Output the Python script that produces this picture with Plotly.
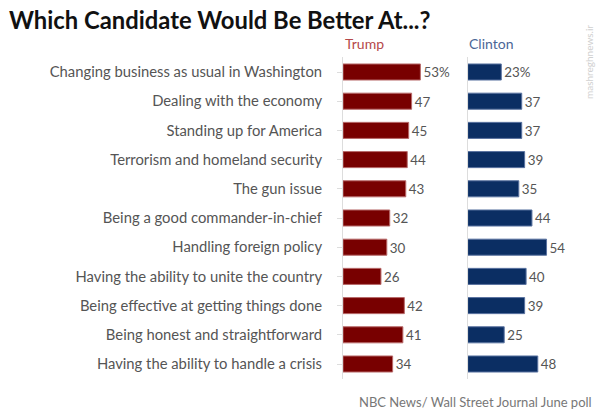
import plotly.graph_objects as go

categories = [
    "Changing business as usual in Washington",
    "Dealing with the economy",
    "Standing up for America",
    "Terrorism and homeland security",
    "The gun issue",
    "Being a good commander-in-chief",
    "Handling foreign policy",
    "Having the ability to unite the country",
    "Being effective at getting things done",
    "Being honest and straightforward",
    "Having the ability to handle a crisis",
]
trump = [53, 47, 45, 44, 43, 32, 30, 26, 42, 41, 34]
clinton = [23, 37, 37, 39, 35, 44, 54, 40, 39, 25, 48]
trump_labels = ["53%"] + [str(v) for v in trump[1:]]
clinton_labels = ["23%"] + [str(v) for v in clinton[1:]]

W, H = 600, 410
FONT = "Lato, 'Open Sans', sans-serif"
LABEL_GRAY = "#555555"

fig = go.Figure()
fig.add_trace(go.Bar(
    x=trump, y=categories, orientation="h", xaxis="x", yaxis="y",
    marker=dict(color="#780000", line=dict(color="#b86a6a", width=1)),
    text=trump_labels, textposition="outside", cliponaxis=False,
    textfont=dict(size=15, color=LABEL_GRAY, family=FONT),
    width=0.55, hoverinfo="skip",
))
fig.add_trace(go.Bar(
    x=clinton, y=categories, orientation="h", xaxis="x2", yaxis="y2",
    marker=dict(color="#0b2e63", line=dict(color="#5a73a0", width=1)),
    text=clinton_labels, textposition="outside", cliponaxis=False,
    textfont=dict(size=15, color=LABEL_GRAY, family=FONT),
    width=0.55, hoverinfo="skip",
))

top_px, bot_px = 57.4, 378.6
ydom = [(H - bot_px) / H, (H - top_px) / H]

fig.update_layout(
    width=W, height=H,
    margin=dict(l=0, r=0, t=0, b=0),
    paper_bgcolor="white", plot_bgcolor="white",
    showlegend=False,
    font=dict(family=FONT, color=LABEL_GRAY),
    xaxis=dict(domain=[343 / W, 430.6 / W], range=[0, 60], visible=False, fixedrange=True),
    xaxis2=dict(domain=[467.7 / W, 555.3 / W], range=[0, 60], visible=False, fixedrange=True),
    yaxis=dict(
        domain=ydom, anchor="x", autorange="reversed",
        showline=True, linecolor="#dddddd", linewidth=1,
        ticks="outside", ticklen=5, tickcolor="#dddddd",
        ticklabelstandoff=12,
        tickfont=dict(size=14.8, color=LABEL_GRAY, family=FONT),
        showgrid=False, zeroline=False, fixedrange=True,
    ),
    yaxis2=dict(
        domain=ydom, anchor="x2", autorange="reversed",
        showline=True, linecolor="#dddddd", linewidth=1,
        showticklabels=False, ticks="", showgrid=False, zeroline=False, fixedrange=True,
    ),
    annotations=[
        dict(text="<b>Which Candidate Would Be Better At...?</b>", x=7 / W, y=1 - 20 / H,
             xref="paper", yref="paper", xanchor="left", yanchor="middle", showarrow=False,
             font=dict(size=23.8, color="#111111", family=FONT)),
        dict(text="Trump", x=343 / W, y=1 - 44 / H, xref="paper", yref="paper",
             xanchor="left", yanchor="middle", showarrow=False,
             font=dict(size=14, color="#b5484a", family=FONT)),
        dict(text="Clinton", x=467 / W, y=1 - 44 / H, xref="paper", yref="paper",
             xanchor="left", yanchor="middle", showarrow=False,
             font=dict(size=14, color="#4b6696", family=FONT)),
        dict(text="NBC News/ Wall Street Journal June poll", x=594 / W, y=1 - 401.5 / H,
             xref="paper", yref="paper", xanchor="right", yanchor="middle", showarrow=False,
             font=dict(size=13, color="#777777", family=FONT)),
        dict(text="mashreghnews.ir", x=589 / W, y=1 - 62 / H, xref="paper", yref="paper",
             xanchor="center", yanchor="middle", showarrow=False, textangle=-90,
             font=dict(size=10, color="#d0d0d0", family=FONT)),
    ],
)

fig.write_html("out.html", config={"displayModeBar": False},
               post_script="document.body.style.margin='0';")
